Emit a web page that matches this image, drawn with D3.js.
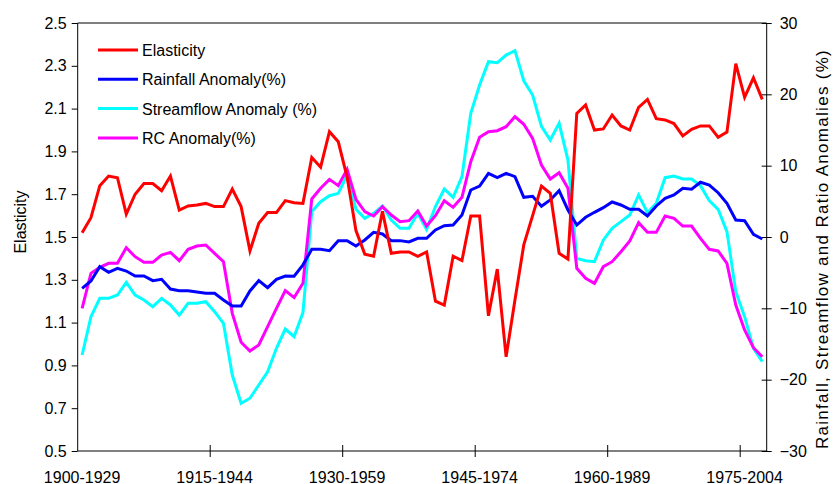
<!DOCTYPE html>
<html><head><meta charset="utf-8">
<script src="https://cdn.jsdelivr.net/npm/d3@7"></script>
<style>body{margin:0;background:#fff}svg{display:block}text{font-family:"Liberation Sans",Arial,sans-serif;fill:#000}</style>
</head><body><svg id="c" width="838" height="484"></svg>
<script>
const startYears = d3.range(1900, 1978);
const categories = startYears.map(y => y + "-" + (y + 29));
const tickLabels = ["1900-1929","1915-1944","1930-1959","1945-1974","1960-1989","1975-2004"];
const elasticity = [1.52,1.59,1.74,1.785,1.777,1.607,1.70,1.75,1.75,1.716,1.785,1.626,1.645,1.65,1.657,1.642,1.642,1.724,1.642,1.435,1.564,1.614,1.614,1.67,1.66,1.657,1.872,1.826,1.992,1.945,1.78,1.53,1.42,1.41,1.62,1.424,1.43,1.43,1.41,1.43,1.20,1.182,1.41,1.39,1.598,1.598,1.132,1.35,0.94,1.206,1.463,1.60,1.738,1.704,1.424,1.397,2.078,2.117,2.0,2.005,2.07,2.019,2.0,2.106,2.143,2.053,2.047,2.03,1.972,2.003,2.019,2.019,1.966,1.99,2.31,2.153,2.244,2.143];
const rainfall = [-7.2,-6.17,-4.16,-4.95,-4.39,-4.77,-5.47,-5.47,-6.12,-5.93,-7.29,-7.52,-7.52,-7.71,-7.9,-7.9,-8.83,-9.67,-9.67,-7.57,-6.12,-7.1,-5.93,-5.47,-5.5,-3.9,-1.73,-1.73,-1.92,-0.51,-0.51,-1.26,-0.42,0.65,0.42,-0.51,-0.51,-0.7,-0.19,-0.19,0.98,1.59,1.68,3.08,6.59,7.15,8.93,8.32,8.93,8.46,5.56,5.7,4.3,5.19,6.5,3.79,1.68,2.76,3.46,4.11,4.91,4.49,3.88,3.88,2.94,4.35,5.42,5.89,6.83,6.69,7.67,7.29,6.21,4.72,2.38,2.29,0.37,-0.28];
const streamflow = [-16.54,-11.17,-8.6,-8.6,-8.13,-6.36,-8.13,-8.83,-9.77,-8.6,-9.53,-10.94,-9.3,-9.3,-9.07,-10.47,-12.1,-19.35,-23.3,-22.6,-20.75,-18.9,-15.6,-12.9,-13.97,-10.6,3.55,4.95,5.79,6.12,8.69,3.88,2.62,3.32,4.35,2.38,1.21,1.21,3.32,1.07,4.25,6.73,5.56,8.46,17.34,21.31,24.58,24.44,25.5,26.12,21.9,19.9,15.5,13.6,15.94,10.79,-2.99,-3.32,-3.46,-0.45,1.21,2.15,3.08,5.89,3.41,4.72,8.32,8.55,8.13,8.13,7.2,5.09,3.88,0.75,-7.66,-11.17,-15.6,-17.48];
const rcAnomaly = [-10.0,-5.09,-4.25,-3.69,-3.69,-1.5,-2.76,-3.55,-3.55,-2.52,-2.15,-3.32,-1.73,-1.26,-1.12,-2.29,-3.46,-10.7,-14.76,-15.98,-15.14,-12.57,-10.0,-7.52,-8.5,-6.5,5.33,6.83,8.08,7.2,9.49,5.28,3.55,2.94,4.25,3.08,2.15,2.29,3.65,1.54,2.99,5.09,4.16,5.56,10.56,13.97,14.76,14.9,15.47,16.87,15.8,13.83,10.09,8.13,9.02,6.83,-4.39,-5.79,-6.5,-4.16,-3.46,-2.06,-0.56,2.01,0.65,0.65,2.94,2.62,1.54,1.54,-0.19,-1.73,-1.96,-3.69,-9.53,-13.04,-15.52,-16.78];
const leftTicks = [0.5,0.7,0.9,1.1,1.3,1.5,1.7,1.9,2.1,2.3,2.5];
const rightTicks = [-30,-20,-10,0,10,20,30];
const seriesNames = ["Elasticity","Rainfall Anomaly(%)","Streamflow Anomaly (%)","RC Anomaly(%)"];
const seriesColors = ["#ff0000","#0000ff","#00ffff","#ff00ff"];

const L = 77.7, R = 766.7, T = 23, B = 451;
const svg = d3.select("#c");
const x = d3.scaleBand().domain(categories).range([L, R]).padding(0);
const yL = d3.scaleLinear().domain([0.5, 2.5]).range([B, T]);
const yR = d3.scaleLinear().domain([-30, 30]).range([B, T]);
const cx = c => x(c) + x.bandwidth() / 2;

svg.append("line").attr("x1", L).attr("x2", R).attr("y1", T).attr("y2", T).attr("stroke", "#000").attr("stroke-width", 1);

const gL = svg.append("g").attr("transform", `translate(${L},0)`)
  .call(d3.axisLeft(yL).tickValues(leftTicks).tickFormat(d3.format(".1f")).tickSize(6).tickPadding(5));
const gR = svg.append("g").attr("transform", `translate(${R},0)`)
  .call(d3.axisRight(yR).tickValues(rightTicks).tickSize(5).tickPadding(8));
gR.selectAll(".tick line").attr("x1", -5).attr("x2", 5);
const boundaryIdx = [15, 30, 45, 60, 75];
const gB = svg.append("g").attr("transform", `translate(0,${B})`);
gB.append("line").attr("x1", L).attr("x2", R).attr("stroke", "#000");
gB.selectAll("line.bt").data(boundaryIdx).join("line").attr("class", "bt")
  .attr("x1", i => x(categories[i])).attr("x2", i => x(categories[i]))
  .attr("y1", -6).attr("y2", 6).attr("stroke", "#000");
gB.selectAll("text").data(tickLabels).join("text")
  .attr("x", d => cx(d)).attr("y", 31.5).attr("text-anchor", "middle")
  .style("font-size", "16px").text(d => d);

[gL, gR].forEach(g => {
  g.select(".domain").attr("stroke", "#000");
  g.selectAll(".tick line").attr("stroke", "#000");
  g.selectAll(".tick text").style("font-size", "16px").style("font-family", '"Liberation Sans",Arial,sans-serif').attr("fill", "#000");
});
gL.select(".domain").attr("d", `M0,${B}V${T}`);
gR.select(".domain").attr("d", `M0,${B}V${T}`);

svg.append("text").attr("transform", `translate(26,222) rotate(-90)`).attr("text-anchor", "middle")
  .style("font-size", "16px").text("Elasticity");
svg.append("text").attr("transform", `translate(828,249) rotate(-90)`).attr("text-anchor", "middle")
  .style("font-size", "17px").style("letter-spacing", "1.3px").text("Rainfall, Streamflow and Ratio Anomalies (%)");

const lineL = d3.line().x((d, i) => cx(categories[i])).y(d => yL(d));
const lineR = d3.line().x((d, i) => cx(categories[i])).y(d => yR(d));
const order = [[streamflow, lineR, 2], [rcAnomaly, lineR, 3], [rainfall, lineR, 1], [elasticity, lineL, 0]];
order.forEach(([data, gen, k]) => {
  svg.append("path").datum(data).attr("d", gen).attr("fill", "none")
    .attr("stroke", seriesColors[k]).attr("stroke-width", 3).attr("stroke-linejoin", "miter");
});

const lg = svg.append("g");
seriesNames.forEach((n, k) => {
  const yy = 50 + k * 29.3;
  lg.append("line").attr("x1", 98).attr("x2", 138).attr("y1", yy).attr("y2", yy)
    .attr("stroke", seriesColors[k]).attr("stroke-width", 3);
  lg.append("text").attr("x", 142).attr("y", yy + 6).style("font-size", "16px").text(n);
});
</script></body></html>
